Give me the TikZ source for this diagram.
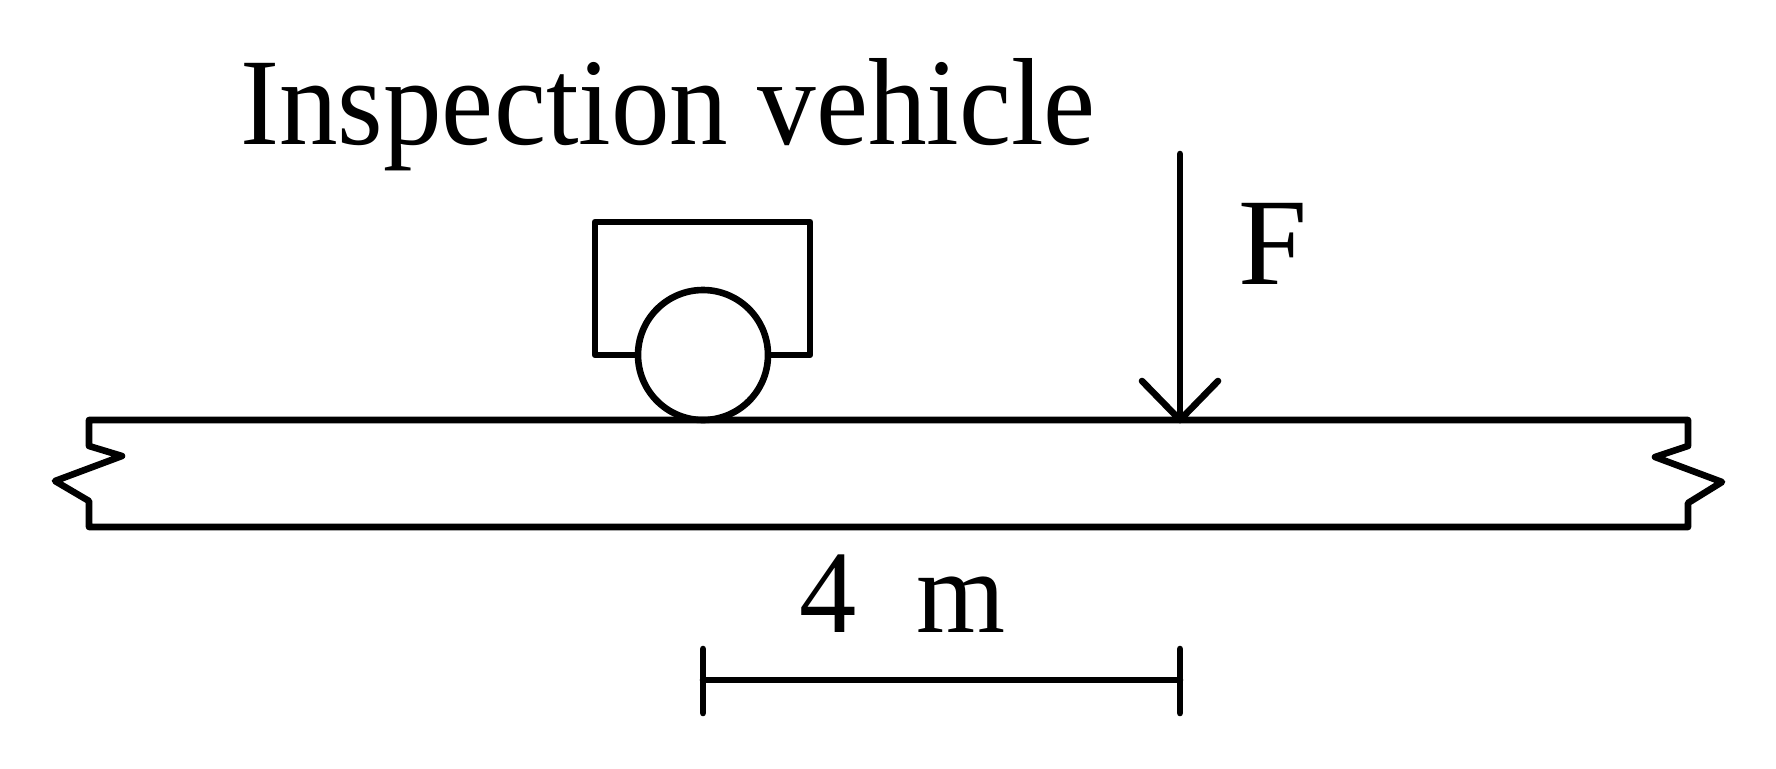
\documentclass[tikz,border=0pt]{standalone}
\usepackage{fontspec}
\setmainfont{Liberation Serif}
\newfontfamily\tightfont[FakeStretch=0.945]{Liberation Serif}
\newfontfamily\dimfont[FakeStretch=0.97]{Liberation Serif}
\begin{document}
\begin{tikzpicture}[x=1pt,y=-1pt,
  lin/.style={line width=6.6pt,line join=round,line cap=round,draw=black},
  lab/.style={inner sep=0pt,text=black}]
\useasboundingbox (0,0) rectangle (1776,768);
\fill[white] (0,0) rectangle (1776,768);
\coordinate (beamTL) at (89,420);
\coordinate (beamTR) at (1688,420);
\coordinate (beamBL) at (89,527);
\coordinate (beamBR) at (1688,527);
\draw[lin] (beamBL) -- (89,501) -- (55,481) -- (122,456) -- (89,446) -- (beamTL) -- (beamTR) -- (1688,446) -- (1655,457) -- (1722,482) -- (1688,503) -- (beamBR) -- cycle;
\node[draw,circle,lin,minimum size=130pt,inner sep=0pt] (wheel) at (703,355) {};
\coordinate (bodyL) at (595,355);
\coordinate (bodyR) at (810,355);
\draw[lin] (wheel.west) -- (bodyL) -- (595,222) -- (810,222) -- (bodyR) -- (wheel.east);
\coordinate (fTop) at (1180,154);
\coordinate (fTip) at (1180,420);
\draw[lin] (fTop) -- (fTip);
\draw[lin] (1142,381) -- (fTip) -- (1218,381);
\coordinate (dimL) at (703,680);
\coordinate (dimR) at (1180,680);
\draw[lin] (dimL) -- (dimR);
\draw[lin] (703,649) -- (703,713);
\draw[lin] (1180,649) -- (1180,713);
\node[lab,font=\tightfont\fontsize{124}{124}\selectfont,anchor=base west] (title) at (240,144) {Inspection vehicle};
\node[lab,font=\fontsize{124}{124}\selectfont,anchor=base west] (force) at (1238,284) {F};
\node[lab,font=\dimfont\fontsize{118}{118}\selectfont,anchor=base west] (dist) at (799,632) {4\hspace{60pt}m};
\end{tikzpicture}
\end{document}
